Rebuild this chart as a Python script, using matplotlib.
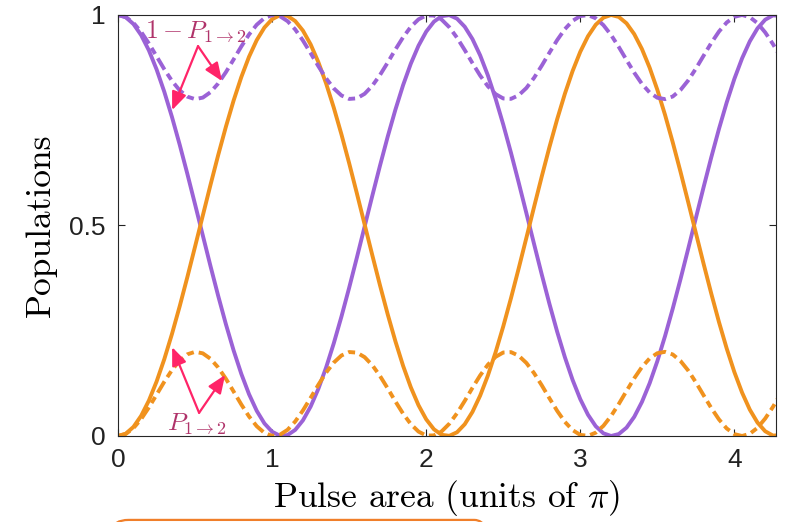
import matplotlib
matplotlib.use("Agg")
import matplotlib.pyplot as plt
from matplotlib.patches import FancyBboxPatch

# pulse area (units of pi), sampled every 0.05
pulse_area = [round(0.05 * k, 2) for k in range(87)]

# transition probability, resonant case (solid)
p_resonant = [
    0.0000, 0.0054, 0.0215, 0.0479, 0.0840, 0.1292, 0.1823, 0.2424, 0.3080, 0.3777,
    0.4501, 0.5235, 0.5965, 0.6673, 0.7346, 0.7968, 0.8525, 0.9007, 0.9402, 0.9702,
    0.9900, 0.9993, 0.9978, 0.9855, 0.9628, 0.9300, 0.8880, 0.8377, 0.7800, 0.7162,
    0.6478, 0.5762, 0.5029, 0.4296, 0.3579, 0.2891, 0.2250, 0.1666, 0.1157, 0.0730,
    0.0395, 0.0159, 0.0028, 0.0004, 0.0088, 0.0279, 0.0571, 0.0958, 0.1433, 0.1985,
    0.2603, 0.3272, 0.3978, 0.4706, 0.5441, 0.6166, 0.6866, 0.7525, 0.8130, 0.8668,
    0.9127, 0.9496, 0.9768, 0.9937, 1.0000, 0.9954, 0.9802, 0.9546, 0.9192, 0.8748,
    0.8223, 0.7627, 0.6974, 0.6280, 0.5558, 0.4823, 0.4093, 0.3382, 0.2706, 0.2080,
    0.1517, 0.1030, 0.0626, 0.0318, 0.0112, 0.0010, 0.0017,
]

# transition probability, detuned case (dash-dot)
p_detuned = [
    0.0000, 0.0048, 0.0187, 0.0403, 0.0677, 0.0981, 0.1288, 0.1566, 0.1791, 0.1940,
    0.1999, 0.1963, 0.1834, 0.1626, 0.1358, 0.1056, 0.0748, 0.0464, 0.0232, 0.0073,
    0.0003, 0.0028, 0.0146, 0.0345, 0.0607, 0.0907, 0.1216, 0.1504, 0.1743, 0.1912,
    0.1994, 0.1980, 0.1873, 0.1682, 0.1426, 0.1130, 0.0821, 0.0529, 0.0282, 0.0104,
    0.0011, 0.0013, 0.0109, 0.0291, 0.0540, 0.0833, 0.1143, 0.1438, 0.1692, 0.1879,
    0.1983, 0.1992, 0.1907, 0.1735, 0.1492, 0.1203, 0.0894, 0.0596, 0.0335, 0.0139,
    0.0025, 0.0004, 0.0078, 0.0241, 0.0476, 0.0761, 0.1069, 0.1370, 0.1637, 0.1842,
    0.1966, 0.1999, 0.1936, 0.1783, 0.1556, 0.1275, 0.0968, 0.0665, 0.0393, 0.0179,
    0.0044, 0.0000, 0.0052, 0.0194, 0.0414, 0.0689, 0.0994,
]

q_resonant = [1 - p for p in p_resonant]
q_detuned = [1 - p for p in p_detuned]

purple = "#9b62d6"
orange = "#f0921e"
label_col = "#b0336a"
arrow_col = "#ff2468"
tick_font = ["Liberation Sans Narrow", "Liberation Sans"]

plt.rcParams["mathtext.fontset"] = "cm"

fig = plt.figure(figsize=(7.87, 5.22), dpi=100)
ax = fig.add_axes([0.150, 0.1648, 0.836, 0.8065])

lw = 2.8
ax.plot(pulse_area, q_resonant, color=purple, lw=lw, solid_capstyle="butt")
ax.plot(pulse_area, p_resonant, color=orange, lw=lw, solid_capstyle="butt")
dd = (3.4, 1.3, 1.8, 1.3)
ax.plot(pulse_area, q_detuned, color=purple, lw=lw, dashes=dd)
ax.plot(pulse_area, p_detuned, color=orange, lw=lw, dashes=dd)

ax.set_xlim(0, 4.27)
ax.set_ylim(0, 1)
ax.set_xticks([0, 1, 2, 3, 4])
ax.set_xticklabels(["0", "1", "2", "3", "4"], family=tick_font)
ax.set_yticks([0, 0.5, 1])
ax.set_yticklabels(["0", "0.5", "1"], family=tick_font)
ax.tick_params(direction="in", top=True, right=True, length=5, width=0.8,
               labelsize=19, pad=9, colors="#222222")
for s in ax.spines.values():
    s.set_color("#262626")
    s.set_linewidth(0.8)

ax.set_xlabel(r"Pulse area (units of $\pi$)", family="cmr10", fontsize=25.5,
              labelpad=4)
ax.set_ylabel("Populations", family="cmr10", fontsize=25.5, labelpad=9)

# annotations
arrow_kw = dict(arrowstyle="-|>,head_length=1.1,head_width=0.45", color=arrow_col,
                lw=1.6, shrinkA=0, shrinkB=0)
ax.text(0.506, 0.963, r"$1-P_{1\to2}$", color=label_col, fontsize=18.5,
        ha="center", va="center")
for head in [(0.351, 0.774), (0.675, 0.843)]:
    ax.annotate("", xy=head, xytext=(0.519, 0.926), arrowprops=arrow_kw)

ax.text(0.513, 0.030, r"$P_{1\to2}$", color=label_col, fontsize=18.5,
        ha="center", va="center")
for head in [(0.351, 0.211), (0.695, 0.145)]:
    ax.annotate("", xy=head, xytext=(0.526, 0.055), arrowprops=arrow_kw)

# top edge of a box that is cut off below the figure
box = FancyBboxPatch((113 / 787, -0.08), (490 - 113) / 787, 0.084,
                     boxstyle="round,pad=0,rounding_size=0.02",
                     transform=fig.transFigure, fill=False,
                     edgecolor="#f07f2a", lw=1.6, clip_on=False)
fig.patches.append(box)

fig.savefig("out.png", dpi=100)
